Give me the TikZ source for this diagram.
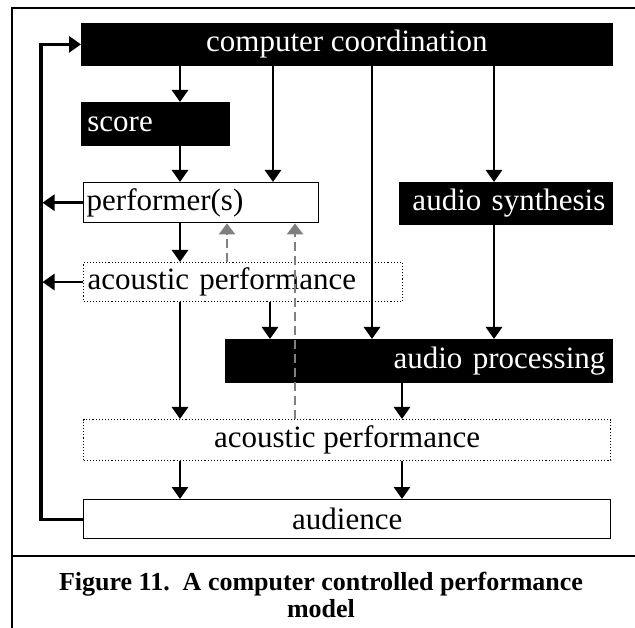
\documentclass[tikz,border=0pt]{standalone}
\usepackage{fontspec}
\setmainfont{Liberation Serif}
\usetikzlibrary{arrows.meta}

\tikzset{every picture/.style={line width=0.75pt}}
\tikzset{
  boxtext/.style={font=\fontsize{31}{36}\selectfont},
  blackbox/.style={boxtext, draw=black, fill=black, text=white, inner sep=0pt, anchor=north west},
  whitebox/.style={boxtext, draw=black, fill=white, line width=1.4pt, inner sep=0pt, anchor=north west},
  dotbox/.style={boxtext, draw=black, dotted, line width=1.1pt, inner sep=0pt, anchor=north west},
  arr/.style={line width=2.8pt, -{Triangle[width=16pt,length=12pt]}},
  darr/.style={draw={rgb, 255:red, 128; green, 128; blue, 128}, line width=2.8pt, dash pattern=on 9pt off 5pt, -{Triangle[width=16pt,length=11pt]}},
  fbline/.style={line width=3.4pt, -{Triangle[width=16pt,length=12pt]}},
}

\begin{document}
\begin{tikzpicture}[x=1pt,y=1pt,yscale=-1]
\useasboundingbox (0,0) rectangle (635,628);

%Frame
\draw [line width=2.6pt] (635,8) -- (12,8) -- (12,628) ;
\draw [line width=2.6pt] (12,556) -- (635,556) ;

%Columns of the connectors
\coordinate (xfb) at (41,0);
\coordinate (xscore) at (180,0);
\coordinate (xperf) at (273,0);
\coordinate (xproc) at (372,0);
\coordinate (xsynth) at (494,0);
\coordinate (xmix) at (270,0);
\coordinate (xout) at (402,0);
\coordinate (xdashA) at (227,0);
\coordinate (xdashB) at (295,0);

%Boxes
\node [blackbox, minimum width=531pt, minimum height=42pt] (cc) at (81,23) {computer coordination};
\node [blackbox, text width=136pt, inner xsep=6pt, minimum height=43pt, align=left] (sc) at (81,102) {score};
\node [whitebox, text width=229pt, inner xsep=3pt, minimum height=40pt, align=left] (pf) at (83,182) {performer(s)};
\node [dotbox, text width=311pt, inner xsep=4pt, minimum height=39pt, align=left] (apA) at (83,262) {acoustic performance};
\node [blackbox, text width=199pt, inner xsep=7pt, minimum height=42pt, align=right] (as) at (399,182) {audio synthesis};
\node [blackbox, text width=373pt, inner xsep=7pt, minimum height=43pt, align=right] (pr) at (225,339) {audio processing};
\node [dotbox, minimum width=527pt, minimum height=41pt] (apB) at (83,419) {acoustic performance};
\node [whitebox, minimum width=527pt, minimum height=39pt] (au) at (83,499) {audience};

%Arrows down
\draw [arr] (cc.south -| xscore) -- (sc.north -| xscore) ;
\draw [arr] (cc.south -| xperf) -- (pf.north -| xperf) ;
\draw [arr] (cc.south -| xproc) -- (pr.north -| xproc) ;
\draw [arr] (cc.south -| xsynth) -- (as.north -| xsynth) ;
\draw [arr] (sc.south -| xscore) -- (pf.north -| xscore) ;
\draw [arr] (pf.south -| xscore) -- (apA.north -| xscore) ;
\draw [arr] (apA.south -| xscore) -- (apB.north -| xscore) ;
\draw [arr] (apA.south -| xmix) -- (pr.north -| xmix) ;
\draw [arr] (as.south -| xsynth) -- (pr.north -| xsynth) ;
\draw [arr] (pr.south -| xout) -- (apB.north -| xout) ;
\draw [arr] (apB.south -| xscore) -- (au.north -| xscore) ;
\draw [arr] (apB.south -| xout) -- (au.north -| xout) ;

%Feedback
\draw [fbline] (au.west) -- (au.west -| xfb) -- (cc.west -| xfb) -- (cc.west) ;
\draw [arr, shorten >=1.5pt] (pf.west) -- (pf.west -| xfb) ;
\draw [arr, shorten >=1.5pt] (apA.west) -- (apA.west -| xfb) ;

%Dashed returns
\draw [darr] (apA.north -| xdashA) -- (pf.south -| xdashA) ;
\draw [darr] (apB.north -| xdashB) -- (pf.south -| xdashB) ;

% Text Node
\node [font=\bfseries\fontsize{26}{27}\selectfont, align=center] (cap) at (321,595) {Figure 11.\ \ A computer controlled performance\\model};
\end{tikzpicture}
\end{document}
